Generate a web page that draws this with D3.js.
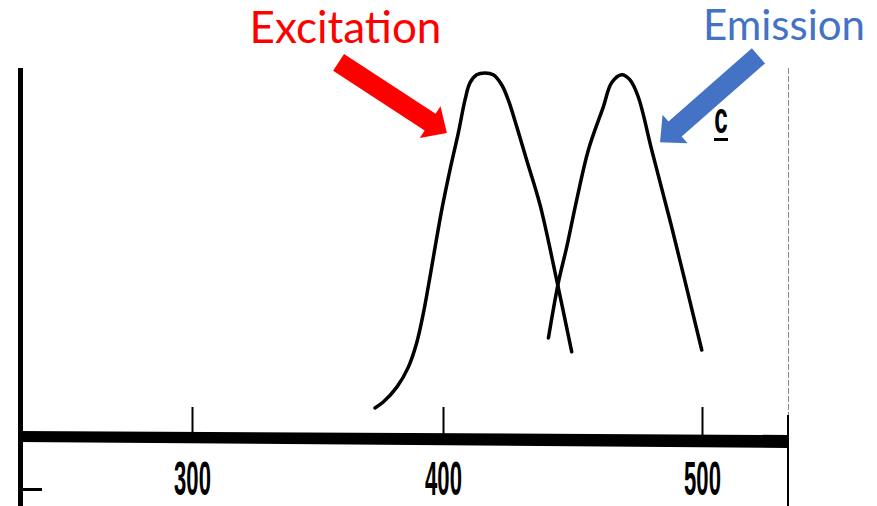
<!DOCTYPE html>
<html>
<head>
<meta charset="utf-8">
<script src="https://cdn.jsdelivr.net/npm/d3@7"></script>
<style>
  html, body { margin: 0; padding: 0; background: #fff; }
  svg { display: block; }
</style>
</head>
<body>
<div id="chart"></div>
<script>
'use strict';

// wavelength (nm) and relative intensity
const excitationNm  = [372.9, 376.2, 381.6, 386.2, 389.5, 392.2, 394.1, 399.5, 402.7, 405.9, 408.5, 410.4, 413.0, 416.2, 419.4, 422.7, 425.2, 428.5, 432.3, 437.5, 443.9, 449.7];
const excitationVal = [8.0, 9.6, 13.7, 19.2, 25.8, 34.1, 41.2, 62.4, 73.4, 83.5, 92.6, 97.3, 99.5, 100, 99.5, 96.7, 92.6, 85.2, 76.1, 63.7, 43.1, 23.4];

const emissionNm  = [440.7, 444.5, 447.8, 451.6, 456.1, 461.9, 465.1, 469.0, 472.2, 475.4, 480.6, 488.0, 499.9];
const emissionVal = [27.2, 42.3, 52.3, 65.1, 78.8, 90.7, 97.3, 99.5, 98.1, 93.4, 78.8, 58.5, 23.9];

const tickValues = [300, 400, 500];
const tickLabels = ['300', '400', '500'];

// annotation arrows: [tail nm, tail value] -> [tip nm, tip value]
const arrowNames = ['Excitation', 'Emission'];
const arrowTails = [[358.4, 102.9], [521.8, 104.7]];
const arrowTips  = [[401.5, 83.5], [483.8, 81.0]];
const arrowColors = ['#ff0000', '#4472c4'];

const W = 877, H = 506;
const axisY = 437;

const svg = d3.select('#chart').append('svg')
    .attr('width', W)
    .attr('height', H);

// piecewise scale, the scanned axis is not quite even
const x = d3.scaleLinear().domain([300, 400, 500]).range([192, 443, 702]);
const y = d3.scaleLinear().domain([0, 100]).range([axisY, 73]);

// frame: left axis, faint right edge
svg.append('rect')
    .attr('x', 18).attr('y', 68)
    .attr('width', 5).attr('height', H - 68)
    .attr('fill', '#000');

svg.append('line')
    .attr('x1', 788.5).attr('x2', 788.5)
    .attr('y1', 68).attr('y2', 415)
    .attr('stroke', '#8a8a8a')
    .attr('stroke-width', 1)
    .attr('stroke-dasharray', '6,2');

svg.append('line')
    .attr('x1', 788).attr('x2', 788)
    .attr('y1', 415).attr('y2', H)
    .attr('stroke', '#000')
    .attr('stroke-width', 2);

// thick, slightly tilted baseline
svg.append('path')
    .attr('d', d3.line()([[18, 431], [788, 435], [788, 448], [18, 442]]) + 'Z')
    .attr('fill', '#000');

// small mark below the axis on the left
svg.append('rect')
    .attr('x', 22).attr('y', 488)
    .attr('width', 20).attr('height', 3)
    .attr('fill', '#000');

// x axis ticks and labels
const xAxis = d3.axisBottom(x)
    .tickValues(tickValues)
    .tickFormat((d, i) => tickLabels[i])
    .tickSizeInner(-30)
    .tickSizeOuter(0)
    .tickPadding(24);

const gx = svg.append('g')
    .attr('transform', `translate(0,${axisY})`)
    .call(xAxis);

gx.select('.domain').remove();
gx.selectAll('.tick line')
    .attr('stroke', '#000')
    .attr('stroke-width', 2);
gx.selectAll('.tick text')
    .attr('fill', '#000')
    .attr('font-family', 'Liberation Sans, Arial, sans-serif')
    .attr('font-weight', 'bold')
    .attr('font-size', 48)
    .attr('transform', 'scale(0.46,1)');

// spectra
const line = d3.line()
    .x(d => x(d[0]))
    .y(d => y(d[1]))
    .curve(d3.curveCatmullRom.alpha(0.5));

const series = [
    d3.zip(excitationNm, excitationVal),
    d3.zip(emissionNm, emissionVal)
];

svg.append('g').selectAll('path')
    .data(series)
    .enter()
    .append('path')
    .attr('d', line)
    .attr('fill', 'none')
    .attr('stroke', '#000')
    .attr('stroke-width', 3.5)
    .attr('stroke-linecap', 'round');

// panel letter
const letter = svg.append('g').attr('transform', 'translate(721,133)');
letter.append('text')
    .attr('text-anchor', 'middle')
    .attr('font-family', 'Liberation Sans, Arial, sans-serif')
    .attr('font-weight', 'bold')
    .attr('font-size', 44)
    .attr('transform', 'scale(0.55,1)')
    .text('c');
letter.append('rect')
    .attr('x', -7).attr('y', 5)
    .attr('width', 14).attr('height', 3)
    .attr('fill', '#000');

// block arrow pointing from tail to tip
function arrowPath(tail, tip) {
    const x0 = x(tail[0]), y0 = y(tail[1]);
    const x1 = x(tip[0]), y1 = y(tip[1]);
    const len = Math.hypot(x1 - x0, y1 - y0);
    const ux = (x1 - x0) / len, uy = (y1 - y0) / len;
    const px = -uy, py = ux;
    const shaft = 10, head = 19, headLen = 20;
    const bx = x1 - ux * headLen, by = y1 - uy * headLen;
    const pts = [
        [x0 + px * shaft, y0 + py * shaft],
        [bx + px * shaft, by + py * shaft],
        [bx + px * head, by + py * head],
        [x1, y1],
        [bx - px * head, by - py * head],
        [bx - px * shaft, by - py * shaft],
        [x0 - px * shaft, y0 - py * shaft]
    ];
    return d3.line()(pts) + 'Z';
}

svg.append('g').selectAll('path')
    .data(arrowNames)
    .enter()
    .append('path')
    .attr('d', (d, i) => arrowPath(arrowTails[i], arrowTips[i]))
    .attr('fill', (d, i) => arrowColors[i]);

// arrow labels
const labelX = [345.5, 784];
const labelY = [43, 40];
const labelSize = [44, 42];
svg.append('g').selectAll('text')
    .data(arrowNames)
    .enter()
    .append('text')
    .attr('x', (d, i) => labelX[i])
    .attr('y', (d, i) => labelY[i])
    .attr('text-anchor', 'middle')
    .attr('font-family', 'Lato, Carlito, sans-serif')
    .attr('font-size', (d, i) => labelSize[i])
    .attr('fill', (d, i) => arrowColors[i])
    .text(d => d);
</script>
</body>
</html>
